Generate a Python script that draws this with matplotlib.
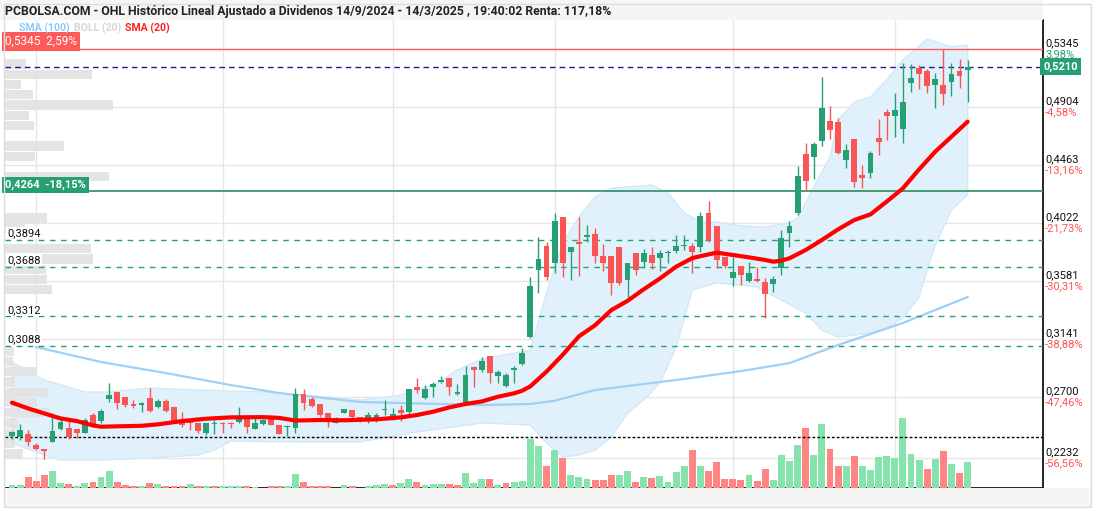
import numpy as np
import matplotlib
matplotlib.use("Agg")
import matplotlib.pyplot as plt
from matplotlib.patches import Rectangle

plt.rcParams['font.family'] = ['Roboto', 'DejaVu Sans']

TITLE = ("PCBOLSA.COM - OHL Histórico Lineal Ajustado a Dividenos "
         "14/9/2024 - 14/3/2025 , 19:40:02 Renta: 117,18%")

# daily OHLC, 26/9/2024 .. 14/3/2025 (one entry per session)
OPEN = [0.2405, 0.2392, 0.2417, 0.2334, 0.2303, 0.2359, 0.2455, 0.2460, 0.2455, 0.2427,
        0.2562, 0.2516, 0.2681, 0.2734, 0.2696, 0.2645, 0.2635, 0.2694, 0.2625, 0.2671,
        0.2620, 0.2524, 0.2511, 0.2503, 0.2427, 0.2490, 0.2498, 0.2503, 0.2511, 0.2541,
        0.2455, 0.2490, 0.2536, 0.2486, 0.2470, 0.2460, 0.2719, 0.2683, 0.2645, 0.2574,
        0.2498, 0.2580, 0.2600, 0.2544, 0.2536, 0.2524, 0.2600, 0.2544, 0.2600, 0.2587,
        0.2772, 0.2689, 0.2777, 0.2815, 0.2841, 0.2722, 0.2663, 0.2925, 0.2904, 0.3011,
        0.2861, 0.2783, 0.2904, 0.2950, 0.3158, 0.3665, 0.3847, 0.3715, 0.4070, 0.3804,
        0.3873, 0.3918, 0.3938, 0.3771, 0.3771, 0.3842, 0.3589, 0.3791, 0.3728, 0.3779,
        0.3753, 0.3791, 0.3812, 0.3847, 0.3847, 0.3837, 0.4096, 0.3999, 0.3766, 0.3607,
        0.3695, 0.3584, 0.3596, 0.3571, 0.3558, 0.3677, 0.3949, 0.4096, 0.4547, 0.4522,
        0.4648, 0.4798, 0.4788, 0.4501, 0.4661, 0.4387, 0.4405, 0.4671, 0.4869, 0.4839,
        0.4735, 0.5090, 0.5204, 0.5181, 0.5072, 0.5072, 0.5092, 0.5178, 0.5186]
HIGH = [0.2440, 0.2493, 0.2448, 0.2351, 0.2303, 0.2574, 0.2529, 0.2524, 0.2455, 0.2536,
        0.2574, 0.2605, 0.2803, 0.2734, 0.2696, 0.2676, 0.2663, 0.2770, 0.2681, 0.2681,
        0.2620, 0.2587, 0.2536, 0.2503, 0.2503, 0.2524, 0.2511, 0.2511, 0.2625, 0.2541,
        0.2544, 0.2529, 0.2562, 0.2486, 0.2486, 0.2765, 0.2757, 0.2701, 0.2645, 0.2574,
        0.2544, 0.2607, 0.2600, 0.2544, 0.2587, 0.2574, 0.2676, 0.2613, 0.2638, 0.2757,
        0.2841, 0.2790, 0.2815, 0.2859, 0.2841, 0.2798, 0.2935, 0.2935, 0.3006, 0.3011,
        0.2904, 0.2879, 0.2935, 0.3069, 0.3614, 0.3913, 0.3880, 0.4096, 0.4070, 0.3837,
        0.4070, 0.4007, 0.3982, 0.3862, 0.3771, 0.3842, 0.3720, 0.3791, 0.3822, 0.3837,
        0.3817, 0.3817, 0.3931, 0.3931, 0.3867, 0.4108, 0.4190, 0.3999, 0.3766, 0.3766,
        0.3695, 0.3728, 0.3685, 0.3601, 0.3619, 0.3969, 0.4040, 0.4456, 0.4633, 0.4641,
        0.5130, 0.4912, 0.4818, 0.4623, 0.4661, 0.4463, 0.4572, 0.4811, 0.4887, 0.5008,
        0.5242, 0.5232, 0.5224, 0.5191, 0.5166, 0.5345, 0.5237, 0.5267, 0.5262]
LOW = [0.2380, 0.2372, 0.2326, 0.2296, 0.2225, 0.2359, 0.2448, 0.2379, 0.2389, 0.2422,
       0.2473, 0.2498, 0.2663, 0.2605, 0.2625, 0.2612, 0.2587, 0.2587, 0.2618, 0.2587,
       0.2519, 0.2473, 0.2448, 0.2427, 0.2410, 0.2417, 0.2427, 0.2460, 0.2498, 0.2427,
       0.2455, 0.2486, 0.2486, 0.2417, 0.2402, 0.2422, 0.2600, 0.2625, 0.2549, 0.2473,
       0.2498, 0.2574, 0.2524, 0.2511, 0.2498, 0.2511, 0.2562, 0.2524, 0.2519, 0.2554,
       0.2732, 0.2681, 0.2701, 0.2803, 0.2714, 0.2714, 0.2656, 0.2777, 0.2892, 0.2808,
       0.2803, 0.2777, 0.2803, 0.2942, 0.3145, 0.3492, 0.3589, 0.3644, 0.3609, 0.3589,
       0.3619, 0.3880, 0.3720, 0.3660, 0.3475, 0.3551, 0.3449, 0.3627, 0.3677, 0.3670,
       0.3660, 0.3715, 0.3796, 0.3817, 0.3639, 0.3804, 0.3880, 0.3677, 0.3677, 0.3543,
       0.3551, 0.3576, 0.3576, 0.3297, 0.3500, 0.3627, 0.3842, 0.4083, 0.4268, 0.4354,
       0.4608, 0.4659, 0.4547, 0.4438, 0.4299, 0.4286, 0.4362, 0.4539, 0.4653, 0.4674,
       0.4633, 0.5016, 0.5039, 0.5008, 0.4894, 0.4920, 0.4988, 0.5046, 0.4945]
CLOSE = [0.2430, 0.2448, 0.2359, 0.2306, 0.2290, 0.2440, 0.2511, 0.2397, 0.2427, 0.2524,
         0.2486, 0.2592, 0.2714, 0.2656, 0.2638, 0.2633, 0.2656, 0.2592, 0.2668, 0.2592,
         0.2519, 0.2483, 0.2503, 0.2440, 0.2503, 0.2493, 0.2493, 0.2493, 0.2541, 0.2473,
         0.2503, 0.2524, 0.2486, 0.2417, 0.2473, 0.2719, 0.2650, 0.2630, 0.2562, 0.2506,
         0.2536, 0.2607, 0.2549, 0.2531, 0.2562, 0.2562, 0.2605, 0.2570, 0.2575, 0.2757,
         0.2752, 0.2757, 0.2798, 0.2828, 0.2777, 0.2734, 0.2866, 0.2904, 0.2970, 0.2884,
         0.2892, 0.2866, 0.2917, 0.3031, 0.3543, 0.3746, 0.3614, 0.4040, 0.3715, 0.3837,
         0.3865, 0.3933, 0.3774, 0.3715, 0.3563, 0.3563, 0.3720, 0.3665, 0.3791, 0.3715,
         0.3791, 0.3804, 0.3847, 0.3855, 0.3804, 0.4076, 0.3893, 0.3741, 0.3695, 0.3647,
         0.3627, 0.3639, 0.3584, 0.3482, 0.3594, 0.3906, 0.3999, 0.4380, 0.4344, 0.4623,
         0.4894, 0.4730, 0.4557, 0.4577, 0.4337, 0.4362, 0.4552, 0.4641, 0.4839, 0.4882,
         0.4945, 0.5122, 0.5153, 0.5067, 0.5115, 0.5001, 0.5155, 0.5143, 0.5210]
# volume, relative units
VOLUME = [3.3, 3.3, 10.7, 7.3, 13, 17.3, 5, 4.3, 2.3, 5,
          5.7, 10.7, 17.3, 6.3, 3.3, 1.7, 1.7, 5, 4, 1.7,
          1.7, 2.3, 4, 1.7, 2.3, 1.7, 1.7, 1.7, 2.3, 2.3,
          1.3, 0.5, 1.7, 1.7, 2.3, 14, 6.3, 2.3, 2.3, 2.3,
          0.5, 3.3, 1.7, 0.5, 2.3, 3, 4.3, 2.7, 5, 9,
          6.3, 2.7, 4.3, 4.3, 4.3, 2.7, 15, 5, 9.3, 9.3,
          2.7, 5, 6.3, 7.3, 49.3, 42.3, 21.7, 37.7, 29.7, 13.3,
          10.7, 9.3, 8.3, 8.3, 12.7, 13.3, 17.3, 5.7, 10.7, 9.7,
          11.7, 6.3, 16.3, 21.7, 38.3, 22.5, 17.3, 26.3, 9.3, 9.3,
          8.3, 13.3, 7.3, 19.3, 8, 33.3, 27.3, 43.3, 60.3, 33.3,
          64.3, 39, 22.3, 22.3, 32.3, 22.3, 18.3, 31.3, 32.3, 30.3,
          70.3, 34.3, 28.3, 19.3, 29.3, 37.3, 24.3, 15.3, 26.3]
VOL_AVG = 51
VOL_FULL = 468          # volume that would fill the whole panel height

# indicators (session index, value)
SMA20_IDX = [0, 2, 4, 6, 8, 10, 11, 13, 16, 18, 21, 24, 27, 31, 33, 35, 38, 41, 45, 48,
             50, 52, 54, 56, 58, 60, 62, 63, 64, 66, 68, 70, 72, 74, 76, 78, 80, 82, 84, 85,
             87, 89, 91, 93, 94, 95, 96, 98, 100, 102, 104, 106, 108, 110, 112, 114, 116, 118]
SMA20_VAL = [0.2656, 0.2612, 0.2574, 0.2536, 0.2516, 0.2483, 0.2473, 0.2476, 0.2480, 0.2491,
             0.2516, 0.2534, 0.2544, 0.2546, 0.2540, 0.2520, 0.2524, 0.2522, 0.2529, 0.2544,
             0.2562, 0.2587, 0.2620, 0.2646, 0.2665, 0.2701, 0.2727, 0.2747, 0.2780, 0.2892,
             0.3020, 0.3160, 0.3245, 0.3360, 0.3430, 0.3518, 0.3600, 0.3690, 0.3755, 0.3770,
             0.3797, 0.3779, 0.3761, 0.3741, 0.3728, 0.3736, 0.3754, 0.3817, 0.3893, 0.3974,
             0.4045, 0.4088, 0.4185, 0.4286, 0.4430, 0.4565, 0.4679, 0.4793]
SMA100_IDX = [3, 11, 19, 27, 33, 43, 58, 64, 67, 72, 82, 90, 96, 102, 110, 118]
SMA100_VAL = [0.3079, 0.2965, 0.2881, 0.2790, 0.2729, 0.2661, 0.2638, 0.2646, 0.2670, 0.2752,
              0.2828, 0.2896, 0.2957, 0.3094, 0.3262, 0.3459]
BOLL_UP_IDX = [0, 4, 9, 12, 17, 23, 31, 36, 43, 48, 52, 55, 58, 64, 66, 68, 70, 72, 74, 76,
               79, 81, 83, 85, 87, 90, 93, 96, 97, 99, 101, 102, 104, 106, 108, 110, 113, 116, 118]
BOLL_UP_VAL = [0.2965, 0.2828, 0.2737, 0.2737, 0.2767, 0.2752, 0.2737, 0.2714, 0.2676, 0.2714,
               0.2790, 0.2904, 0.2988, 0.3056, 0.3490, 0.3870, 0.4068, 0.4220, 0.4288, 0.4296,
               0.4311, 0.4250, 0.4098, 0.4030, 0.4030, 0.4000, 0.3992, 0.4022, 0.4060, 0.4296,
               0.4524, 0.4805, 0.4942, 0.4980, 0.5110, 0.5262, 0.5421, 0.5361, 0.5376]
BOLL_LO_IDX = [0, 4, 6, 11, 17, 23, 25, 27, 36, 43, 50, 58, 64, 66, 68, 70, 72, 74, 76, 78,
               80, 82, 84, 87, 90, 92, 95, 98, 100, 102, 106, 108, 110, 112, 113, 114, 115, 116,
               117, 118]
BOLL_LO_VAL = [0.2349, 0.2258, 0.2220, 0.2220, 0.2235, 0.2258, 0.2296, 0.2364, 0.2357, 0.2357,
               0.2433, 0.2501, 0.2486, 0.2349, 0.2243, 0.2258, 0.2296, 0.2395, 0.2577, 0.2676,
               0.2805, 0.3079, 0.3513, 0.3566, 0.3551, 0.3535, 0.3436, 0.3338, 0.3208, 0.3155,
               0.3186, 0.3224, 0.3300, 0.3459, 0.3665, 0.3850, 0.3990, 0.4121, 0.4180, 0.4235]

# volume-at-price profile on the left edge (top bin first)
PROFILE_TOP = 0.5231
PROFILE_STEP = 0.0078
PROFILE_VOL = [21, 87, 16, 28, 108, 24, 29, 0, 59, 30, 0, 104, 60, 0, 0, 42, 20, 0, 86, 88,
               41, 42, 47, 0, 0, 0, 0, 0, 9, 8, 32, 10, 43, 32, 45, 13, 10, 10, 18]
PROFILE_FULL = 1038

LAST = 0.5210
MAX_LEVEL, MAX_TXT = 0.5345, "0,5345  2,59%"
REF_LEVEL, REF_TXT = 0.4264, "0,4264  -18,15%"
SUPPORTS = [0.3894, 0.3688, 0.3312, 0.3088]

RIGHT_TICKS = [0.5345, 0.4904, 0.4463, 0.4022, 0.3581, 0.3141, 0.2700, 0.2232]
RIGHT_PCT = ["3,98%", "-4,58%", "-13,16%", "-21,73%", "-30,31%", "-38,88%", "-47,46%", "-56,56%"]

XTICK_POS = [3, 26, 47, 67, 89, 109]
XTICK_LAB = ["Oct", "Nov", "Dic", "2025", "Feb", "Mar"]

LEGEND = [("SMA (100)", "#90caf9"), ("BOLL (20)", "#d6d6d6"), ("SMA (20)", "#ff2020")]

GREEN, RED = "#26a073", "#fa5555"
VGREEN, VRED = "#86e3ae", "#ff8585"

def fmt(v):
    return f"{v:.4f}".replace(".", ",")

W, H = 1096, 512
fig = plt.figure(figsize=(W / 100, H / 100), dpi=100)
fig.patch.set_facecolor("white")

# frame pieces around the plot
fig.patches.append(Rectangle((0, 1 - 20 / H), 1043 / W, 20 / H, transform=fig.transFigure,
                             facecolor="#f5f5f5", edgecolor="none", zorder=0))
fig.patches.append(Rectangle((4 / W, 1 - 507 / H), 1087 / W, 19 / H, transform=fig.transFigure,
                             facecolor="#f5f5f5", edgecolor="none", zorder=0))
fig.patches.append(Rectangle((4 / W, 1 - 507 / H), 1087 / W, 503 / H, transform=fig.transFigure,
                             fill=False, edgecolor="#dddddd", lw=1, zorder=0))

ax = fig.add_axes([5 / W, 1 - 488 / H, 1038 / W, 468 / H])
ax.set_xlim(-0.86, 127.3)
ax.set_ylim(0.2007, 0.5566)
ymin, ymax = ax.get_ylim()
ytr = ax.get_yaxis_transform()

# grid
for t in RIGHT_TICKS:
    ax.axhline(t, color="#e6e6e6", lw=1, zorder=0)
for p in XTICK_POS:
    ax.axvline(p, color="#e6e6e6", lw=1, zorder=0)

# bollinger band
bx = np.concatenate([BOLL_UP_IDX, BOLL_LO_IDX[::-1]])
by = np.concatenate([BOLL_UP_VAL, BOLL_LO_VAL[::-1]])
ax.fill(bx, by, facecolor="#e1f1fc", edgecolor="#d2e8f9", lw=1, zorder=1)

# volume profile
levels = PROFILE_TOP - PROFILE_STEP * np.arange(len(PROFILE_VOL))
ax.barh(levels, np.array(PROFILE_VOL) / PROFILE_FULL, height=PROFILE_STEP * 0.9, left=0,
        transform=ytr, color="#e2e2e2", alpha=0.9, lw=0, zorder=1.5)

ax.plot(SMA100_IDX, SMA100_VAL, color="#9fd0f7", lw=1.6, zorder=2)

# volume bars
idx = np.arange(len(CLOSE))
o, h, l, c = (np.array(a) for a in (OPEN, HIGH, LOW, CLOSE))
prev = np.concatenate([[o[0]], c[:-1]])
vcol = np.where(c >= prev, VGREEN, VRED)
k = (ymax - ymin) / VOL_FULL
ax.bar(idx, np.array(VOLUME) * k, bottom=ymin, width=0.85, color=vcol, lw=0, zorder=3)
ax.axhline(ymin + VOL_AVG * k, color="black", lw=1, ls=(0, (2, 1.5)), zorder=3.5)

# reference lines
ax.axhline(MAX_LEVEL, color="#ff5c5c", lw=1, zorder=3.6)
ax.axhline(LAST, color="#1a1a9a", lw=1, ls=(0, (4, 3)), zorder=3.6)
ax.axhline(REF_LEVEL, color="#2e8b62", lw=1.2, zorder=3.6)
for s in SUPPORTS:
    ax.axhline(s, color="#26a073", lw=1, ls=(0, (4, 4)), zorder=3.6)
    ax.text(0.002, s + 0.0012, fmt(s), transform=ytr, fontsize=8, va="bottom", ha="left",
            color="#111111", zorder=7,
            bbox=dict(boxstyle="square,pad=0.1", facecolor="white", edgecolor="none"))

# candles
col = np.where(c >= o, GREEN, RED)
ax.vlines(idx, l, h, colors=col, lw=1, zorder=5)
ax.bar(idx, np.maximum(np.abs(c - o), 0.0009), bottom=np.minimum(o, c), width=0.72,
       color=col, lw=0, zorder=6)

ax.plot(SMA20_IDX, SMA20_VAL, color="#ff0000", lw=3, zorder=6.5, solid_capstyle="round")

# level boxes on the left
ax.text(0.0, MAX_LEVEL + 0.0008, MAX_TXT, transform=ytr, fontsize=8.5, color="white",
        va="bottom", ha="left", zorder=8,
        bbox=dict(boxstyle="square,pad=0.25", facecolor="#ff5a5a", edgecolor="none"))
ax.text(0.0, REF_LEVEL + 0.0008, REF_TXT, transform=ytr, fontsize=8, color="white",
        va="bottom", ha="left", zorder=8, fontweight="bold",
        bbox=dict(boxstyle="square,pad=0.25", facecolor="#26a073", edgecolor="none"))

# right axis labels
for t, pc in zip(RIGHT_TICKS, RIGHT_PCT):
    ax.text(1.002, t + 0.0006, fmt(t), transform=ytr, fontsize=8, va="bottom", ha="left",
            color="#111111", clip_on=False)
    ax.text(1.002, t - 0.0002, pc, transform=ytr, fontsize=8, va="top", ha="left",
            color="#26a073" if not pc.startswith("-") else "#ff5252", clip_on=False)
ax.text(1.0, LAST, fmt(LAST), transform=ytr, fontsize=8, va="center", ha="left",
        color="white", fontweight="bold", clip_on=False, zorder=9,
        bbox=dict(boxstyle="square,pad=0.3", facecolor="#26a073", edgecolor="none"))

# axes cosmetics
for side in ("top", "left"):
    ax.spines[side].set_visible(False)
for side in ("bottom", "right"):
    ax.spines[side].set_color("black")
    ax.spines[side].set_linewidth(1.2)
ax.set_yticks([])
ax.set_xticks(XTICK_POS, XTICK_LAB)
ax.tick_params(axis="x", length=0, labelsize=8, pad=4)
ax.get_xticklabels()[XTICK_LAB.index("2025")].set_fontweight("bold")
ax.get_xticklabels()[XTICK_LAB.index("2025")].set_fontsize(9)

# header + legend
fig.text(5 / W, 1 - 11 / H, TITLE, fontsize=8.8, fontweight="bold", color="#222222",
         va="center", ha="left")
renderer = fig.canvas.get_renderer()
x = 19
for txt, cc in LEGEND:
    t = fig.text(x / W, 1 - 28 / H, txt, fontsize=7.6, fontweight="bold", color=cc,
                 va="center", ha="left")
    x = t.get_window_extent(renderer).x1 + 4

fig.savefig("out.png", dpi=100)
